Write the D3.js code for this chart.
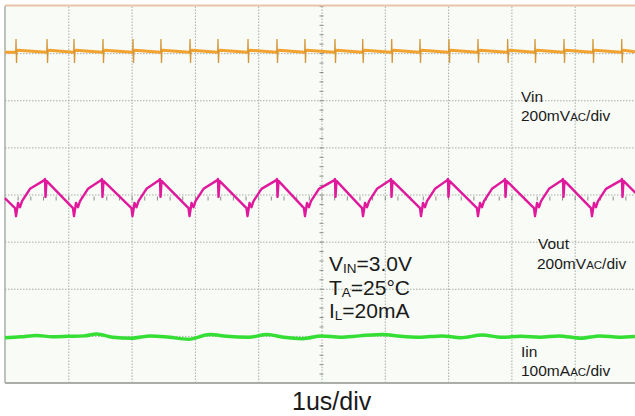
<!DOCTYPE html>
<html>
<head>
<meta charset="utf-8">
<script src="https://cdn.jsdelivr.net/npm/d3@7"></script>
<style>
  body { margin: 0; background: #fff; }
  svg { display: block; font-family: "Liberation Sans", Arial, sans-serif; }
  .grid line { stroke: #a8aca8; stroke-dasharray: 1.5,1.5; }
  .grid path { display: none; }
  .mid path { display: none; }
  .mid line { stroke: #8a8e8a; }
</style>
</head>
<body>
<div id="chart"></div>
<script>
// scope screen: 10 divisions of 1us across, 8 divisions up/down (+-4)
var xDivs = [0, 1, 2, 3, 4, 5, 6, 7, 8, 9, 10];
var yDivs = [-4, -3, -2, -1, 0, 1, 2, 3, 4];

// Vout ripple, [time us, divisions]
var vout = [
  [0.000,-0.08],
  [0.158,-0.29],[0.174,-0.46],[0.206,-0.18],[0.237,-0.27],[0.269,-0.14],[0.395,0.12],[0.616,0.30],[0.632,0.33],[0.640,-0.05],[0.656,0.29],
  [1.074,-0.29],[1.090,-0.46],[1.122,-0.18],[1.153,-0.27],[1.185,-0.14],[1.311,0.12],[1.516,0.30],[1.532,0.33],[1.540,-0.05],[1.556,0.29],
  [1.998,-0.29],[2.014,-0.46],[2.046,-0.18],[2.077,-0.27],[2.109,-0.14],[2.235,0.12],[2.433,0.30],[2.449,0.33],[2.457,-0.05],[2.473,0.29],
  [2.899,-0.29],[2.915,-0.46],[2.947,-0.18],[2.978,-0.27],[3.010,-0.14],[3.136,0.12],[3.349,0.30],[3.365,0.33],[3.373,-0.05],[3.389,0.29],
  [3.815,-0.29],[3.831,-0.46],[3.863,-0.18],[3.894,-0.27],[3.926,-0.14],[4.052,0.12],[4.281,0.30],[4.297,0.33],[4.305,-0.05],[4.321,0.29],
  [4.723,-0.29],[4.739,-0.46],[4.771,-0.18],[4.802,-0.27],[4.834,-0.14],[4.960,0.12],[5.197,0.30],[5.213,0.33],[5.221,-0.05],[5.237,0.29],
  [5.640,-0.29],[5.656,-0.46],[5.688,-0.18],[5.719,-0.27],[5.751,-0.14],[5.877,0.12],[6.082,0.30],[6.098,0.33],[6.106,-0.05],[6.122,0.29],
  [6.556,-0.29],[6.572,-0.46],[6.604,-0.18],[6.635,-0.27],[6.667,-0.14],[6.793,0.12],[6.982,0.30],[6.998,0.33],[7.006,-0.05],[7.022,0.29],
  [7.456,-0.29],[7.472,-0.46],[7.504,-0.18],[7.535,-0.27],[7.567,-0.14],[7.693,0.12],[7.883,0.30],[7.899,0.33],[7.907,-0.05],[7.923,0.29],
  [8.357,-0.29],[8.373,-0.46],[8.405,-0.18],[8.436,-0.27],[8.468,-0.14],[8.594,0.12],[8.799,0.30],[8.815,0.33],[8.823,-0.05],[8.839,0.29],
  [9.257,-0.29],[9.273,-0.46],[9.305,-0.18],[9.336,-0.27],[9.368,-0.14],[9.494,0.12],[9.731,0.30],[9.747,0.33],[9.755,-0.05],[9.771,0.29],
  [10.000,-0.02]
];

// Vin: flat level with a switching spike at every Vout edge
var vinSpikeT = [0.174, 0.664, 1.090, 1.548, 2.022, 2.464, 2.923, 3.365, 3.839, 4.297, 4.739,
                 5.213, 5.651, 6.109, 6.556, 7.014, 7.472, 7.941, 8.373, 8.831, 9.289, 9.743];
var vinLevel = 3.02, vinAfter = 3.06, vinSpikeTop = 3.30, vinSpikeBottom = 2.79;

// Iin, nearly flat
var iin = [
  [0,-3.04],[0.25,-3.02],[0.5,-2.99],[0.75,-3.02],[1.0,-3.01],[1.25,-3.0],[1.45,-2.96],[1.7,-3.03],
  [2.0,-3.05],[2.3,-3.0],[2.6,-3.03],[2.9,-3.07],[3.24,-2.97],[3.5,-3.01],[3.85,-3.03],[4.14,-2.97],
  [4.4,-3.03],[4.7,-3.06],[5.0,-3.0],[5.3,-3.03],[5.6,-3.0],[5.97,-2.97],[6.25,-3.01],[6.55,-3.03],
  [6.9,-3.0],[7.2,-3.04],[7.54,-2.98],[7.85,-3.03],[8.15,-3.01],[8.45,-3.03],[8.75,-3.0],[9.1,-3.05],
  [9.4,-3.0],[9.7,-3.03],[10,-3.01]
];

var chLabels = [
  { name: "Vin",  scale: "200mV", unit: "AC", per: "/div" },
  { name: "Vout", scale: "200mV", unit: "AC", per: "/div" },
  { name: "Iin",  scale: "100mA", unit: "AC", per: "/div" }
];
var conditions = [
  { main: "V", sub: "IN", rest: "=3.0V" },
  { main: "T", sub: "A",  rest: "=25°C" },
  { main: "I", sub: "L",  rest: "=20mA" }
];
var timeBase = "1us/div";

var W = 635, H = 416;
var plotL = 5, plotT = 6, plotR = 638, plotB = 383;

var x = d3.scaleLinear().domain([0, 10]).range([plotL, plotR]);
var y = d3.scaleLinear().domain([-4, 4]).range([plotB, plotT]);

var svg = d3.select("#chart").append("svg")
    .attr("width", W)
    .attr("height", H);

svg.append("rect")
    .attr("x", plotL).attr("y", plotT)
    .attr("width", plotR - plotL).attr("height", plotB - plotT)
    .attr("fill", "#f8fbf6");

//grid
svg.append("g")
    .attr("class", "grid")
    .attr("transform", "translate(0," + plotB + ")")
    .call(d3.axisBottom(x).tickValues(xDivs.slice(1, -1)).tickSize(-(plotB - plotT)).tickFormat(""));

svg.append("g")
    .attr("class", "grid")
    .attr("transform", "translate(" + plotL + ",0)")
    .call(d3.axisLeft(y).tickValues(yDivs.slice(1, -1)).tickSize(-(plotR - plotL)).tickFormat(""));

//small ticks on the centre lines
var minorX = d3.range(0, 10.001, 0.2), minorY = d3.range(-4, 4.001, 0.2);
svg.append("g")
    .attr("class", "mid")
    .attr("transform", "translate(0," + (y(0) + 2) + ")")
    .call(d3.axisBottom(x).tickValues(minorX).tickSize(4).tickSizeOuter(0).tickFormat(""));
svg.append("g")
    .attr("class", "mid")
    .attr("transform", "translate(" + (x(5) + 2) + ",0)")
    .call(d3.axisLeft(y).tickValues(minorY).tickSize(4).tickSizeOuter(0).tickFormat(""));

//frame
svg.append("line").attr("x1", plotL).attr("x2", plotR).attr("y1", plotT - 0.5).attr("y2", plotT - 0.5)
    .attr("stroke", "#e9c2aa").attr("stroke-width", 2);
svg.append("line").attr("x1", plotL).attr("x2", plotL).attr("y1", plotT).attr("y2", plotB)
    .attr("stroke", "#a9aea9").attr("stroke-width", 1.5);
svg.append("line").attr("x1", plotL).attr("x2", plotR).attr("y1", plotB).attr("y2", plotB)
    .attr("stroke", "#a9aea9").attr("stroke-width", 2);

var line = d3.line()
    .x(function (d) { return x(d[0]); })
    .y(function (d) { return y(d[1]); });

// Vin level: slight lift after each spike, sagging back before the next
var vinBase = [[0, vinLevel]];
vinSpikeT.forEach(function (t) {
  vinBase.push([t - 0.01, vinLevel]);
  vinBase.push([t + 0.03, vinAfter]);
});
vinBase.push([10, vinLevel]);

svg.append("path").datum(vinBase)
    .attr("d", line)
    .attr("fill", "none")
    .attr("stroke", "#f2a22e")
    .attr("stroke-width", 3)
    .attr("stroke-linejoin", "round");

// thin ringing spikes
svg.append("g").selectAll("path")
    .data(vinSpikeT)
    .enter().append("path")
    .attr("d", function (t) {
      return line([[t - 0.004, vinLevel], [t, vinSpikeTop], [t + 0.008, vinSpikeBottom], [t + 0.014, vinLevel]]);
    })
    .attr("fill", "none")
    .attr("stroke", "#d3963a")
    .attr("stroke-width", 1.3);

svg.append("path").datum(vout)
    .attr("d", line)
    .attr("fill", "none")
    .attr("stroke", "#e0199c")
    .attr("stroke-width", 2.4)
    .attr("stroke-linejoin", "round");

svg.append("path").datum(iin)
    .attr("d", line.curve(d3.curveMonotoneX))
    .attr("fill", "none")
    .attr("stroke", "#35de35")
    .attr("stroke-width", 3.5)
    .attr("stroke-linejoin", "round");

//channel labels
var labelPos = [[521, 101.5], [537, 249], [521, 357]];
chLabels.forEach(function (c, i) {
  var g = svg.append("g").attr("font-size", 15.5).attr("fill", "#1a1a1a");
  g.append("text")
      .attr("x", labelPos[i][0] + (i == 1 ? 1 : 0)).attr("y", labelPos[i][1])
      .text(c.name);
  var t = g.append("text")
      .attr("x", labelPos[i][0]).attr("y", labelPos[i][1] + (i == 1 ? 20 : 19));
  t.append("tspan").text(c.scale);
  t.append("tspan").attr("font-size", 11.5).text(c.unit);
  t.append("tspan").text(c.per);
});

//test conditions
conditions.forEach(function (c, i) {
  var t = svg.append("text")
      .attr("x", 329).attr("y", 271 + i * 23.5)
      .attr("font-size", 21)
      .attr("fill", "#1a1a1a");
  t.append("tspan").text(c.main);
  t.append("tspan").attr("font-size", 13.5).attr("dy", 2).text(c.sub);
  t.append("tspan").attr("dy", -2).text(c.rest);
});

svg.append("text")
    .attr("x", 292).attr("y", 410)
    .attr("font-size", 25)
    .attr("fill", "#1a1a1a")
    .text(timeBase);
</script>
</body>
</html>
